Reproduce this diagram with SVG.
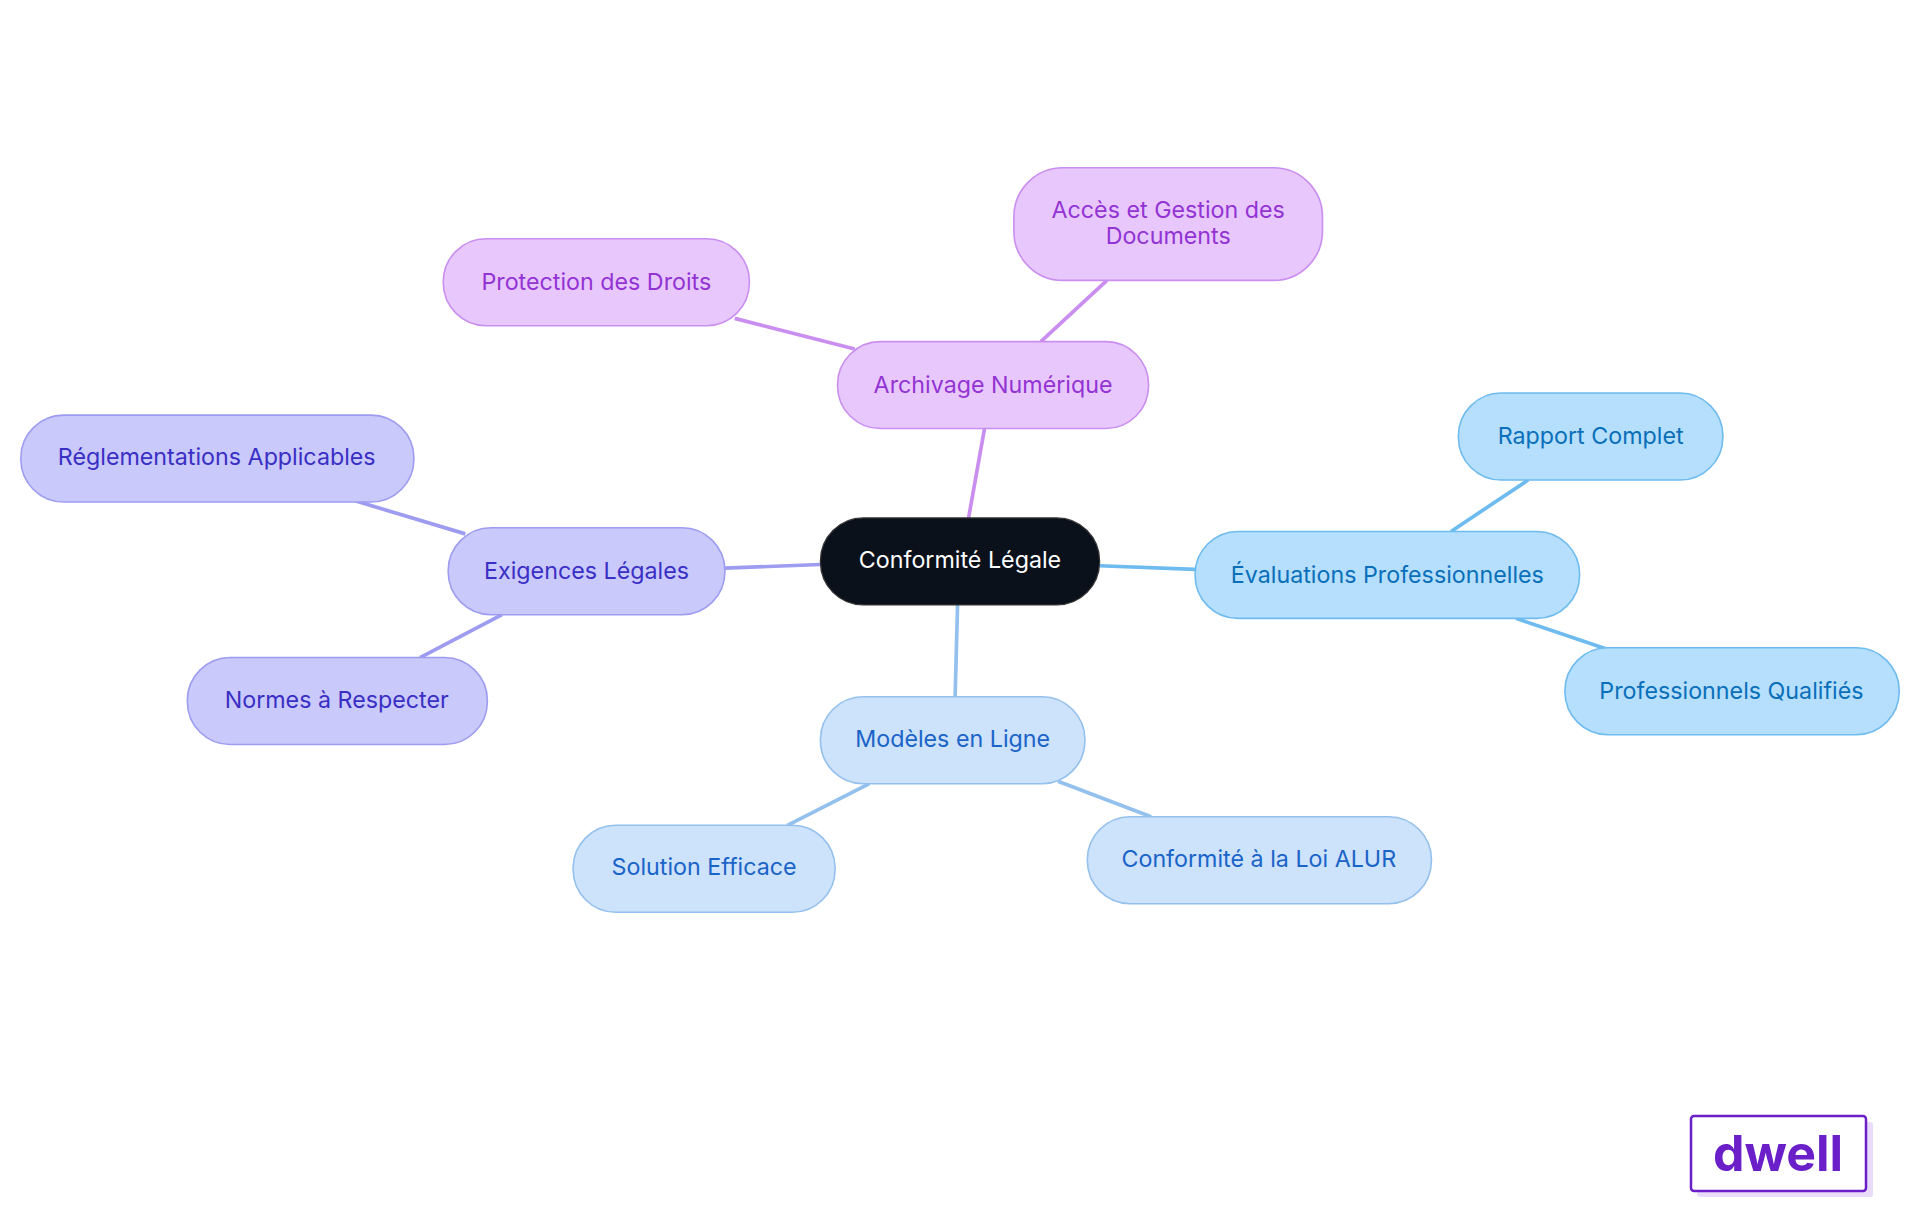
<svg xmlns="http://www.w3.org/2000/svg" width="1920" height="1215" viewBox="0 0 1920 1215">
<style>
text{font-family:Inter,"Noto Sans","Liberation Sans",sans-serif;font-size:19px;text-anchor:middle;dominant-baseline:central}
.p rect{fill:#e8c8fc;stroke:#c98ef0;stroke-width:1.3}.p text{fill:#9333d4}
.v rect{fill:#c9c9fc;stroke:#9d9cf0;stroke-width:1.3}.v text{fill:#3a2fc4}
.b rect{fill:#b5dffc;stroke:#6ebbef;stroke-width:1.3}.b text{fill:#0a6fba}
.l rect{fill:#cde2fb;stroke:#94c0ee;stroke-width:1.3}.l text{fill:#1a64c8}
#edges line{stroke-width:3;fill:none}
</style>
<rect width="1920" height="1215" fill="#fff"/>
<g transform="scale(1.2245)">
<g id="edges">
<line x1="791" y1="423" x2="804" y2="350" stroke="#c98ef0"/>
<line x1="698" y1="285" x2="600" y2="260" stroke="#c98ef0"/>
<line x1="850" y1="279" x2="904" y2="229" stroke="#c98ef0"/>
<line x1="670" y1="461" x2="592" y2="464" stroke="#9d9cf0"/>
<line x1="380" y1="436" x2="290" y2="409" stroke="#9d9cf0"/>
<line x1="410" y1="502" x2="343" y2="537" stroke="#9d9cf0"/>
<line x1="898" y1="462" x2="976" y2="465" stroke="#6ebbef"/>
<line x1="1185" y1="434" x2="1248" y2="392" stroke="#6ebbef"/>
<line x1="1238" y1="505" x2="1312" y2="530" stroke="#6ebbef"/>
<line x1="782" y1="494" x2="780" y2="569" stroke="#94c0ee"/>
<line x1="710" y1="640" x2="643" y2="674" stroke="#94c0ee"/>
<line x1="864" y1="638" x2="940" y2="667" stroke="#94c0ee"/>
</g>
<g id="center"><rect x="670" y="423" width="228" height="71" rx="35" fill="#0b111b" stroke="#333" stroke-width="1"/><text x="784" y="457" fill="#fff">Conformité Légale</text></g>
<g id="archivage" class="p"><rect x="684" y="279" width="254" height="71" rx="35"/><text x="811" y="314">Archivage Numérique</text></g>
<g id="protection" class="p"><rect x="362" y="195" width="250" height="71" rx="35"/><text x="487" y="230">Protection des Droits</text></g>
<g id="acces" class="p"><rect x="828" y="137" width="252" height="92" rx="40"/><text x="954" y="171">Accès et Gestion des</text><text x="954" y="192">Documents</text></g>
<g id="exigences" class="v"><rect x="366" y="431" width="226" height="71" rx="35"/><text x="479" y="466">Exigences Légales</text></g>
<g id="reglementations" class="v"><rect x="17" y="339" width="321" height="71" rx="35"/><text x="177" y="373">Réglementations Applicables</text></g>
<g id="normes" class="v"><rect x="153" y="537" width="245" height="71" rx="35"/><text x="275" y="571">Normes à Respecter</text></g>
<g id="evaluations" class="b"><rect x="976" y="434" width="314" height="71" rx="35"/><text x="1133" y="469">Évaluations Professionnelles</text></g>
<g id="rapport" class="b"><rect x="1191" y="321" width="216" height="71" rx="35"/><text x="1299" y="356">Rapport Complet</text></g>
<g id="professionnels" class="b"><rect x="1278" y="529" width="273" height="71" rx="35"/><text x="1414" y="564">Professionnels Qualifiés</text></g>
<g id="modeles" class="l"><rect x="670" y="569" width="216" height="71" rx="35"/><text x="778" y="603">Modèles en Ligne</text></g>
<g id="solution" class="l"><rect x="468" y="674" width="214" height="71" rx="35"/><text x="575" y="708">Solution Efficace</text></g>
<g id="alur" class="l"><rect x="888" y="667" width="281" height="71" rx="35"/><text x="1028" y="701">Conformité à la Loi ALUR</text></g>
</g>
<g id="logo">
<rect x="1697" y="1122" width="176" height="75" rx="3" fill="#e8dcfa"/>
<rect x="1691" y="1116" width="175" height="75" rx="3" fill="#fff" stroke="#6a1fc8" stroke-width="2.5"/>
<text x="1778" y="1153" style="font-size:50px;font-weight:700;fill:#6a1fc8">dwell</text>
</g>
</svg>
